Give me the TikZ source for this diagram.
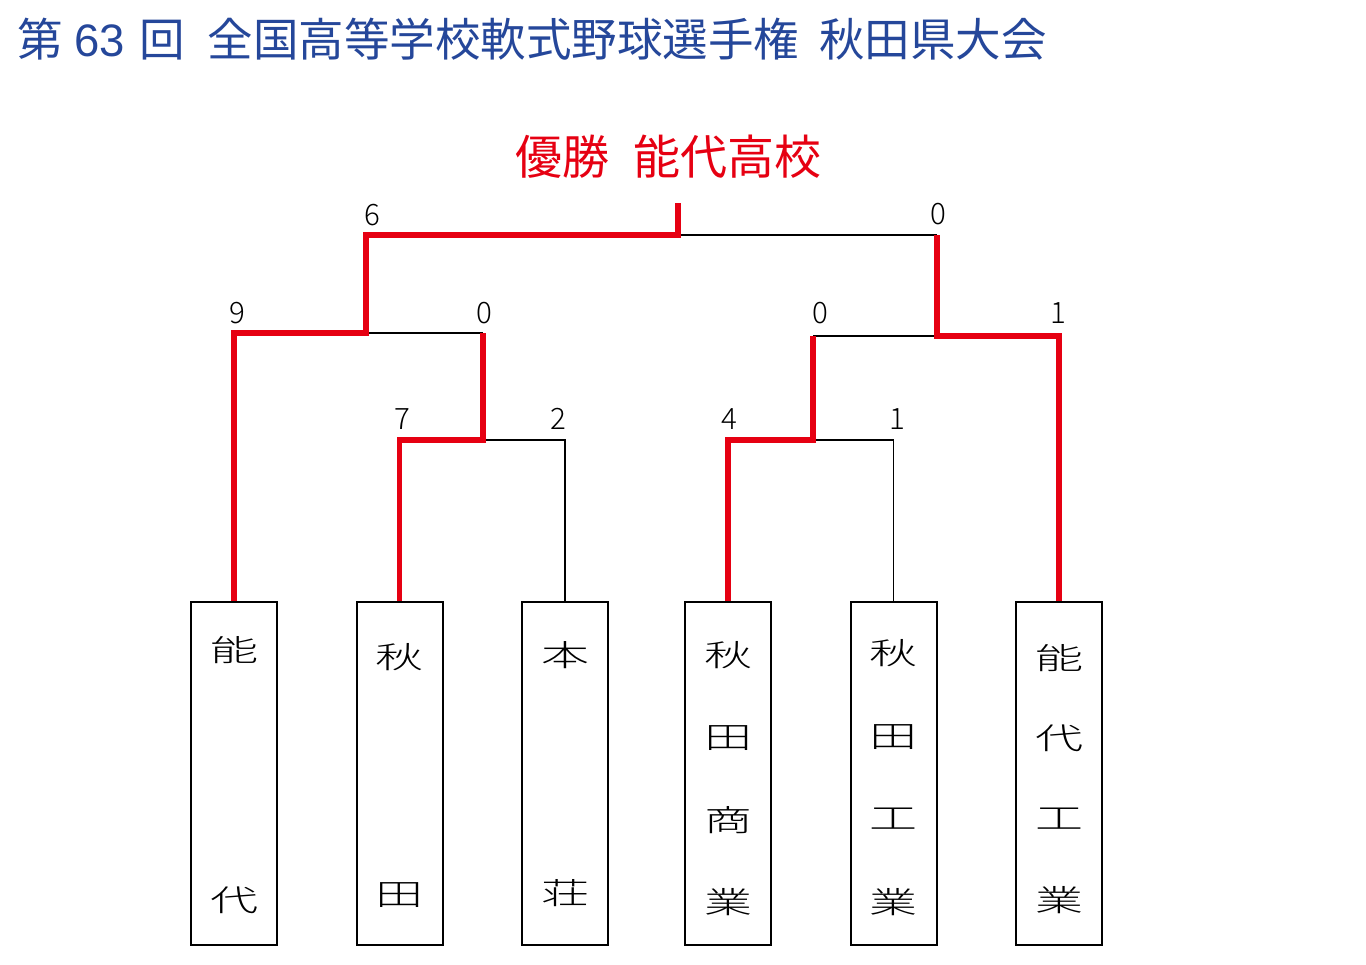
\documentclass[tikz,border=0pt]{standalone}
\usepackage{fontspec}
\usepackage{graphicx}
\setmainfont{Noto Sans CJK JP}
\newfontfamily\lightcjk{Noto Sans CJK JP Light}
\newfontfamily\digits{Liberation Sans}
\definecolor{ttlblue}{HTML}{25479A}
\definecolor{winred}{HTML}{E60012}
\newcommand\wch[1]{\scalebox{1.6}[1]{\lightcjk #1}}
\begin{document}
\begin{tikzpicture}[x=1pt,y=-1pt,
  win/.style={draw=winred,line width=5.5pt,line join=miter},
  lose/.style={draw=black,line width=1.3pt},
  box/.style={draw=black,line width=2pt,minimum width=86pt,minimum height=343pt,inner sep=0pt},
  score/.style={font=\lightcjk\fontsize{29.5}{30}\selectfont,inner sep=0pt},
  sch/.style={font=\fontsize{30}{30}\selectfont,inner sep=0pt}]
\useasboundingbox[fill=white] (0,0) rectangle (1366,965);

% title and winner
\node[anchor=west,text=ttlblue,font=\fontsize{45.5}{50}\selectfont,inner sep=0pt] (title) at (17,39)
  {第\hspace{12pt}{\digits 63}\hspace{14pt}回\hspace{23pt}全国高等学校軟式野球選手権\hspace{20pt}秋田県大会};
\node[anchor=west,text=winred,font=\fontsize{47}{50}\selectfont,inner sep=0pt] (winner) at (515,157)
  {優勝\hspace{24pt}能代高校};

% team boxes
\node[box] (t1) at (234,773.5) {};
\node[box] (t2) at (399.5,773.5) {};
\node[box] (t3) at (565,773.5) {};
\node[box] (t4) at (728,773.5) {};
\node[box] (t5) at (893.5,773.5) {};
\node[box] (t6) at (1059,773.5) {};

% team names
\node[sch] (n1a) at (234,650) {\wch{能}};
\node[sch] (n1b) at (234,900) {\wch{代}};
\node[sch] (n2a) at (399.5,657) {\wch{秋}};
\node[sch] (n2b) at (399.5,895) {\wch{田}};
\node[sch] (n3a) at (565,655) {\wch{本}};
\node[sch] (n3b) at (565,893) {\wch{荘}};
\node[sch] (n4a) at (728,655) {\wch{秋}};
\node[sch] (n4b) at (728,738) {\wch{田}};
\node[sch] (n4c) at (728,820) {\wch{商}};
\node[sch] (n4d) at (728,902) {\wch{業}};
\node[sch] (n5a) at (893.5,653) {\wch{秋}};
\node[sch] (n5b) at (893.5,737) {\wch{田}};
\node[sch] (n5c) at (893.5,819) {\wch{工}};
\node[sch] (n5d) at (893.5,902) {\wch{業}};
\node[sch] (n6a) at (1059,658) {\wch{能}};
\node[sch] (n6b) at (1059,738) {\wch{代}};
\node[sch] (n6c) at (1059,819) {\wch{工}};
\node[sch] (n6d) at (1059,900) {\wch{業}};

% junctions
\coordinate (q1) at (483,440);
\coordinate (q2) at (813,440);
\coordinate (s1) at (366,333);
\coordinate (s2) at (937,336);
\coordinate (f) at (678,235);
\coordinate (champ) at (678,203);

% losing (black) lines
\draw[lose] (q1) -| (t3.north);
\draw[lose] (s1) -- (q1 |- s1);
\draw[lose] (q2) -| (t5.north);
\draw[lose] (q2 |- s2) -- (s2);
\draw[lose] (f) -- (s2 |- f);

% winning (red) lines
\draw[win] (t2.north) |- (q1) -- (q1 |- s1);
\draw[win] (t1.north) |- (s1) -- (s1 |- f) -- (f) -- (champ);
\draw[win] (t4.north) |- (q2) -- (q2 |- s2);
\draw[win] (t6.north) |- (s2) -- (s2 |- f);

% scores
\node[score] (sc6) at (372,215) {6};
\node[score] (sc0a) at (938,214) {0};
\node[score] (sc9) at (237,313) {9};
\node[score] (sc0b) at (484,313) {0};
\node[score] (sc0c) at (820,313) {0};
\node[score] (sc1a) at (1058,313) {1};
\node[score] (sc7) at (402,419) {7};
\node[score] (sc2) at (558,419) {2};
\node[score] (sc4) at (729,419) {4};
\node[score] (sc1b) at (897,419) {1};
\end{tikzpicture}
\end{document}
